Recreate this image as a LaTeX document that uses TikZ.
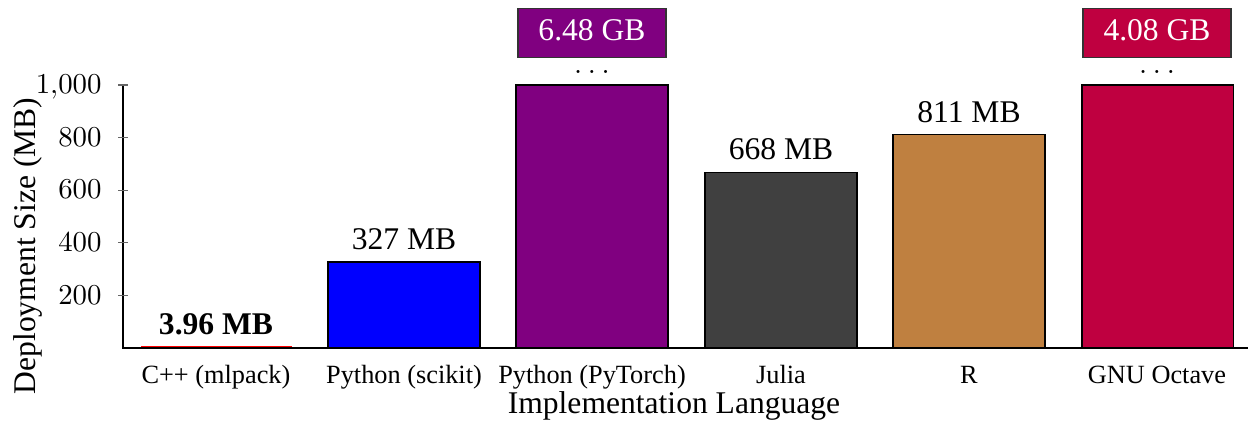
\documentclass[tikz,border=0pt]{standalone}
\usepackage{fontspec}
\setmainfont{Liberation Serif}
\begin{document}
\begin{tikzpicture}[x=0.38pt,y=-0.38pt,
  barbox/.style={draw=black,line width=0.4pt},
  vallab/.style={font=\large,anchor=base,inner sep=0pt},
  catlab/.style={anchor=base,inner sep=0pt},
  ticklab/.style={anchor=base east,inner sep=0pt,font=\fontsize{10.6}{13}\selectfont},
  tickline/.style={draw=black!60,line width=0.4pt},
  capbox/.style={draw=black!80,line width=0.5pt,minimum width=56.2pt,minimum height=18.6pt,inner sep=0pt},
  captext/.style={font=\large,text=white,anchor=base,inner sep=0pt}]
\useasboundingbox (0,0) rectangle (1248,435);
% bars
\draw[red,line width=0.7pt] (141,347.3) -- (292,347.3);
\draw[barbox,fill=blue] (328,348) rectangle (480,262);
\draw[barbox,fill=violet] (516,348) rectangle (668,85);
\draw[barbox,fill=darkgray] (705,348) rectangle (857,172.3);
\draw[barbox,fill=brown] (893,348) rectangle (1045,134.7);
\draw[barbox,fill=purple] (1082,348) rectangle (1233,85);
% axes
\draw[black,line width=0.5pt] (123,85) -- (123,348) -- (1248,348);
% ticks
\foreach \v/\yy in {{1{,}000}/85,800/137.6,600/190.2,400/242.8,200/295.4}{
  \draw[tickline] (118,\yy) -- (128,\yy);
  \node[ticklab] at (102,\yy+8.8) {$\v$};
}
% value labels
\node[vallab] (lcpp) at (216,335) {\textbf{3.96 MB}};
\node[vallab] (lsci) at (404,249.5) {327 MB};
\node[vallab] (ljul) at (781,160) {668 MB};
\node[vallab] (lr) at (969,122.5) {811 MB};
% capped values
\node[capbox,fill=violet] (bpt) at (592,33) {};
\node[captext] (tpt) at (592,41) {6.48 GB};
\node[vallab] (dpt) at (592,74) {$\ldots$};
\node[capbox,fill=purple] (boc) at (1157,33) {};
\node[captext] (toc) at (1157,41) {4.08 GB};
\node[vallab] (doc) at (1157,74) {$\ldots$};
% category labels
\node[catlab] (c1) at (216,384) {C++ (mlpack)};
\node[catlab] (c2) at (404,384) {Python (scikit)};
\node[catlab] (c3) at (592,384) {Python (PyTorch)};
\node[catlab] (c4) at (781,384) {Julia};
\node[catlab] (c5) at (969,384) {R};
\node[catlab] (c6) at (1157,384) {GNU Octave};
% axis labels
\node[font=\large,anchor=base,inner sep=0pt] (xl) at (674,414) {Implementation Language};
\node[font=\large,anchor=base,inner sep=0pt,rotate=90] (yl) at (35,246) {Deployment Size (MB)};
\end{tikzpicture}
\end{document}
